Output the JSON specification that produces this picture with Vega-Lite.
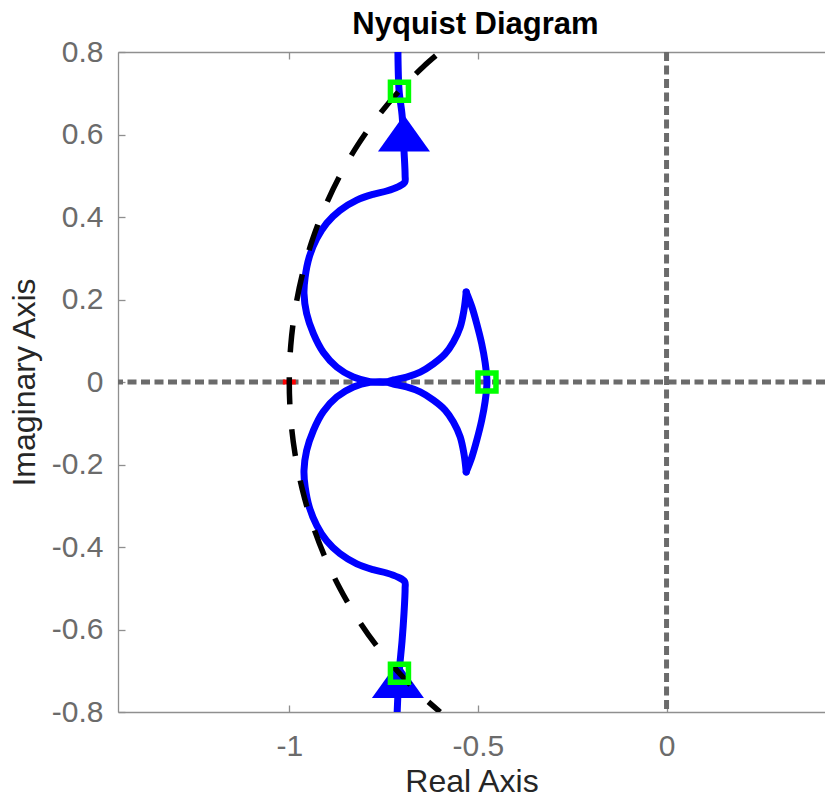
{
  "$schema": "https://vega.github.io/schema/vega-lite/v6.json",
  "width": 707,
  "height": 660,
  "autosize": {"type": "none"},
  "padding": {"left": 118, "top": 52, "right": 0, "bottom": 87},
  "background": "white",
  "title": {
    "text": "Nyquist Diagram",
    "font": "Liberation Sans",
    "fontSize": 31,
    "fontWeight": "bold",
    "color": "#000000",
    "anchor": "middle",
    "offset": 12,
    "dx": 4,
    "dy": 16
  },
  "config": {
    "view": {"stroke": null},
    "axis": {
      "grid": false,
      "domainColor": "#8f8f8f",
      "domainWidth": 1.3,
      "tickColor": "#8f8f8f",
      "tickWidth": 1.3,
      "tickSize": -7,
      "labelFont": "Liberation Sans",
      "labelFontSize": 30,
      "labelColor": "#6b6b6b",
      "labelFlush": false,
      "labelOverlap": false,
      "titleFont": "Liberation Sans",
      "titleFontSize": 32,
      "titleFontWeight": "normal",
      "titleColor": "#262626"
    }
  },
  "datasets": {
    "response": [
      {"seg": "a", "i": 1, "re": -0.712, "im": 0.8},
      {"seg": "a", "i": 2, "re": -0.709, "im": 0.707},
      {"seg": "a", "i": 3, "re": -0.701, "im": 0.647},
      {"seg": "a", "i": 4, "re": -0.696, "im": 0.562},
      {"seg": "a", "i": 5, "re": -0.693, "im": 0.501},
      {"seg": "a", "i": 6, "re": -0.694, "im": 0.484},
      {"seg": "a", "i": 7, "re": -0.712, "im": 0.473},
      {"seg": "a", "i": 8, "re": -0.742, "im": 0.463},
      {"seg": "a", "i": 9, "re": -0.778, "im": 0.455},
      {"seg": "a", "i": 10, "re": -0.821, "im": 0.441},
      {"seg": "a", "i": 11, "re": -0.866, "im": 0.416},
      {"seg": "a", "i": 12, "re": -0.901, "im": 0.385},
      {"seg": "a", "i": 13, "re": -0.927, "im": 0.348},
      {"seg": "a", "i": 14, "re": -0.947, "im": 0.303},
      {"seg": "a", "i": 15, "re": -0.958, "im": 0.254},
      {"seg": "a", "i": 16, "re": -0.961, "im": 0.214},
      {"seg": "a", "i": 17, "re": -0.954, "im": 0.166},
      {"seg": "a", "i": 18, "re": -0.936, "im": 0.117},
      {"seg": "a", "i": 19, "re": -0.91, "im": 0.072},
      {"seg": "a", "i": 20, "re": -0.874, "im": 0.036},
      {"seg": "a", "i": 21, "re": -0.83, "im": 0.012},
      {"seg": "a", "i": 22, "re": -0.786, "im": 0.001},
      {"seg": "a", "i": 23, "re": -0.744, "im": 0.0},
      {"seg": "a", "i": 24, "re": -0.724, "im": 0.005},
      {"seg": "a", "i": 25, "re": -0.689, "im": 0.012},
      {"seg": "a", "i": 26, "re": -0.653, "im": 0.024},
      {"seg": "a", "i": 27, "re": -0.618, "im": 0.044},
      {"seg": "a", "i": 28, "re": -0.587, "im": 0.068},
      {"seg": "a", "i": 29, "re": -0.565, "im": 0.097},
      {"seg": "a", "i": 30, "re": -0.547, "im": 0.133},
      {"seg": "a", "i": 31, "re": -0.537, "im": 0.174},
      {"seg": "a", "i": 32, "re": -0.531, "im": 0.218},
      {"seg": "b", "i": 32, "re": -0.531, "im": 0.218},
      {"seg": "b", "i": 33, "re": -0.516, "im": 0.182},
      {"seg": "b", "i": 34, "re": -0.503, "im": 0.141},
      {"seg": "b", "i": 35, "re": -0.49, "im": 0.093},
      {"seg": "b", "i": 36, "re": -0.481, "im": 0.048},
      {"seg": "b", "i": 37, "re": -0.476, "im": 0.0},
      {"seg": "b", "i": 38, "re": -0.481, "im": -0.048},
      {"seg": "b", "i": 39, "re": -0.49, "im": -0.093},
      {"seg": "b", "i": 40, "re": -0.503, "im": -0.141},
      {"seg": "b", "i": 41, "re": -0.516, "im": -0.182},
      {"seg": "b", "i": 42, "re": -0.531, "im": -0.218},
      {"seg": "c", "i": 42, "re": -0.531, "im": -0.218},
      {"seg": "c", "i": 43, "re": -0.537, "im": -0.174},
      {"seg": "c", "i": 44, "re": -0.547, "im": -0.133},
      {"seg": "c", "i": 45, "re": -0.565, "im": -0.097},
      {"seg": "c", "i": 46, "re": -0.587, "im": -0.068},
      {"seg": "c", "i": 47, "re": -0.618, "im": -0.044},
      {"seg": "c", "i": 48, "re": -0.653, "im": -0.024},
      {"seg": "c", "i": 49, "re": -0.689, "im": -0.012},
      {"seg": "c", "i": 50, "re": -0.724, "im": -0.005},
      {"seg": "c", "i": 51, "re": -0.744, "im": 0.0},
      {"seg": "c", "i": 52, "re": -0.786, "im": -0.001},
      {"seg": "c", "i": 53, "re": -0.83, "im": -0.012},
      {"seg": "c", "i": 54, "re": -0.874, "im": -0.036},
      {"seg": "c", "i": 55, "re": -0.91, "im": -0.072},
      {"seg": "c", "i": 56, "re": -0.936, "im": -0.117},
      {"seg": "c", "i": 57, "re": -0.954, "im": -0.166},
      {"seg": "c", "i": 58, "re": -0.961, "im": -0.214},
      {"seg": "c", "i": 59, "re": -0.958, "im": -0.254},
      {"seg": "c", "i": 60, "re": -0.947, "im": -0.303},
      {"seg": "c", "i": 61, "re": -0.927, "im": -0.348},
      {"seg": "c", "i": 62, "re": -0.901, "im": -0.385},
      {"seg": "c", "i": 63, "re": -0.866, "im": -0.416},
      {"seg": "c", "i": 64, "re": -0.821, "im": -0.441},
      {"seg": "c", "i": 65, "re": -0.778, "im": -0.455},
      {"seg": "c", "i": 66, "re": -0.742, "im": -0.463},
      {"seg": "c", "i": 67, "re": -0.712, "im": -0.473},
      {"seg": "c", "i": 68, "re": -0.694, "im": -0.484},
      {"seg": "c", "i": 69, "re": -0.693, "im": -0.501},
      {"seg": "c", "i": 70, "re": -0.696, "im": -0.562},
      {"seg": "c", "i": 71, "re": -0.701, "im": -0.627},
      {"seg": "c", "i": 72, "re": -0.709, "im": -0.707},
      {"seg": "c", "i": 73, "re": -0.714, "im": -0.8}
    ],
    "unitCircle": [
      {"i": 1, "re": -0.6, "im": 0.8},
      {"i": 2, "re": -0.6428, "im": 0.766},
      {"i": 3, "re": -0.7071, "im": 0.7071},
      {"i": 4, "re": -0.766, "im": 0.6428},
      {"i": 5, "re": -0.8192, "im": 0.5736},
      {"i": 6, "re": -0.866, "im": 0.5},
      {"i": 7, "re": -0.9063, "im": 0.4226},
      {"i": 8, "re": -0.9397, "im": 0.342},
      {"i": 9, "re": -0.9659, "im": 0.2588},
      {"i": 10, "re": -0.9848, "im": 0.1736},
      {"i": 11, "re": -0.9962, "im": 0.0872},
      {"i": 12, "re": -1.0, "im": 0.0},
      {"i": 13, "re": -0.9962, "im": -0.0872},
      {"i": 14, "re": -0.9848, "im": -0.1736},
      {"i": 15, "re": -0.9659, "im": -0.2588},
      {"i": 16, "re": -0.9397, "im": -0.342},
      {"i": 17, "re": -0.9063, "im": -0.4226},
      {"i": 18, "re": -0.866, "im": -0.5},
      {"i": 19, "re": -0.8192, "im": -0.5736},
      {"i": 20, "re": -0.766, "im": -0.6428},
      {"i": 21, "re": -0.7071, "im": -0.7071},
      {"i": 22, "re": -0.6428, "im": -0.766},
      {"i": 23, "re": -0.6, "im": -0.8}
    ],
    "arrows": [
      {"re": -0.696, "im": 0.603},
      {"re": -0.712, "im": -0.722}
    ],
    "margins": [
      {"re": -0.708, "im": 0.705},
      {"re": -0.476, "im": 0.0},
      {"re": -0.708, "im": -0.706}
    ]
  },
  "layer": [
    {
      "data": {"values": [{"im": 0}]},
      "mark": {"type": "rule", "color": "#6b6b6b", "strokeWidth": 5, "strokeDash": [9, 4.5]},
      "encoding": {
        "y": {"field": "im", "type": "quantitative", "scale": {"domain": [-0.8, 0.8], "nice": false, "zero": false}, "axis": null}
      }
    },
    {
      "data": {"values": [{"re": 0}]},
      "mark": {"type": "rule", "color": "#6b6b6b", "strokeWidth": 5, "strokeDash": [9, 4.5]},
      "encoding": {
        "x": {"field": "re", "type": "quantitative", "scale": {"domain": [-1.454, 0.42], "nice": false, "zero": false}, "axis": null}
      }
    },
    {
      "data": {"values": [{"re": -1, "im": 0}]},
      "mark": {"type": "point", "shape": "stroke", "filled": false, "color": "#ff0000", "strokeWidth": 5, "size": 169, "opacity": 1},
      "encoding": {
        "x": {"field": "re", "type": "quantitative", "axis": null},
        "y": {"field": "im", "type": "quantitative", "axis": null}
      }
    },
    {
      "data": {"name": "response"},
      "mark": {"type": "line", "color": "#0000ff", "strokeWidth": 7, "interpolate": "catmull-rom", "strokeCap": "round", "strokeJoin": "round", "clip": true},
      "encoding": {
        "x": {
          "field": "re", "type": "quantitative",
          "scale": {"domain": [-1.454, 0.42], "nice": false, "zero": false},
          "axis": {"orient": "bottom", "values": [-1, -0.5, 0], "labelExpr": "'' + datum.value", "labelPadding": 26.5, "title": "Real Axis", "titlePadding": 5}
        },
        "y": {
          "field": "im", "type": "quantitative",
          "scale": {"domain": [-0.8, 0.8], "nice": false, "zero": false},
          "axis": {"orient": "left", "values": [-0.8, -0.6, -0.4, -0.2, 0, 0.2, 0.4, 0.6, 0.8], "labelExpr": "'' + datum.value", "labelPadding": 22, "title": "Imaginary Axis", "titlePadding": 10}
        },
        "detail": {"field": "seg"},
        "order": {"field": "i", "type": "quantitative"}
      }
    },
    {
      "data": {"name": "arrows"},
      "mark": {"type": "point", "shape": "M0,-0.7L1,0.7L-1,0.7Z", "filled": true, "color": "#0000ff", "size": 2704, "opacity": 1, "strokeWidth": 0},
      "encoding": {
        "x": {"field": "re", "type": "quantitative", "axis": null},
        "y": {"field": "im", "type": "quantitative", "axis": null}
      }
    },
    {
      "data": {"name": "unitCircle"},
      "mark": {"type": "line", "color": "#000000", "strokeWidth": 5.5, "strokeDash": [27, 25], "strokeDashOffset": 46, "interpolate": "catmull-rom", "clip": true},
      "encoding": {
        "x": {
          "field": "re", "type": "quantitative",
          "axis": {"orient": "top", "values": [-1, -0.5, 0], "labels": false, "title": null}
        },
        "y": {"field": "im", "type": "quantitative", "axis": null},
        "order": {"field": "i", "type": "quantitative"}
      }
    },
    {
      "data": {"name": "margins"},
      "mark": {"type": "point", "shape": "square", "filled": false, "color": "#00ff00", "strokeWidth": 5.5, "size": 324, "opacity": 1},
      "encoding": {
        "x": {"field": "re", "type": "quantitative", "axis": null},
        "y": {"field": "im", "type": "quantitative", "axis": null}
      }
    }
  ],
  "resolve": {"axis": {"x": "independent", "y": "independent"}}
}
